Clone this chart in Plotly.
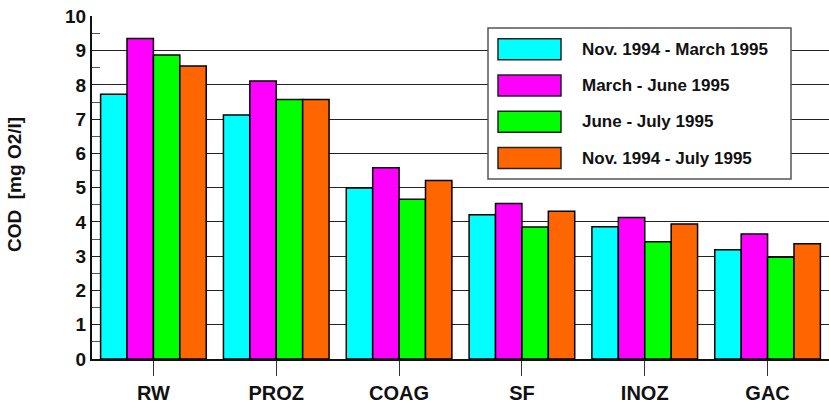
import plotly.graph_objects as go

categories = ["RW", "PROZ", "COAG", "SF", "INOZ", "GAC"]
series_names = ["Nov. 1994 - March 1995", "March - June 1995", "June - July 1995", "Nov. 1994 - July 1995"]
nov_mar = [7.73, 7.12, 4.99, 4.21, 3.86, 3.19]
mar_jun = [9.35, 8.11, 5.58, 4.54, 4.13, 3.65]
jun_jul = [8.87, 7.57, 4.66, 3.85, 3.42, 2.97]
nov_jul = [8.55, 7.57, 5.21, 4.31, 3.94, 3.36]
series_values = [nov_mar, mar_jun, jun_jul, nov_jul]
colors = ["#00FFFF", "#FF00FF", "#00FF00", "#FF6600"]
y_title = "COD&nbsp;&nbsp;[mg O2/l]"

W, H = 829, 403
L, R, T, B = 92, 0, 16, 403 - 359
PW, PH = W - L - R, H - T - B

FONT = "Liberation Sans, Arial, sans-serif"

fig = go.Figure()
for name, vals, col in zip(series_names, series_values, colors):
    fig.add_trace(go.Bar(
        x=categories, y=vals, name=name,
        marker=dict(color=col, line=dict(color="#000000", width=1.5)),
        showlegend=False,
    ))


def px_x(px):
    return (px - L) / PW


def px_y(py):
    return (H - B - py) / PH


shapes = []
annotations = []
# legend box
shapes.append(dict(type="rect", xref="paper", yref="paper",
                   x0=px_x(488), x1=px_x(791), y0=px_y(179), y1=px_y(28),
                   fillcolor="white", line=dict(color="#555555", width=1.5), layer="above"))
row_centers = [49.3, 85.5, 121.7, 158.0]
for name, col, yc in zip(series_names, colors, row_centers):
    shapes.append(dict(type="rect", xref="paper", yref="paper",
                       x0=px_x(498), x1=px_x(561), y0=px_y(yc + 10.5), y1=px_y(yc - 10.5),
                       fillcolor=col, line=dict(color="#222222", width=1.5), layer="above"))
    annotations.append(dict(xref="paper", yref="paper", x=px_x(580), y=px_y(yc),
                            xanchor="left", yanchor="middle", showarrow=False,
                            text=name, font=dict(family=FONT, size=17, color="#111111", weight="bold")))
# y axis title
annotations.append(dict(xref="paper", yref="paper", x=px_x(14), y=px_y(185),
                        xanchor="center", yanchor="middle", showarrow=False, textangle=-90,
                        text=y_title, font=dict(family=FONT, size=19, color="#111111", weight="bold")))

fig.update_layout(
    width=W, height=H,
    margin=dict(l=L, r=R, t=T, b=B, pad=0, autoexpand=False),
    paper_bgcolor="white", plot_bgcolor="white",
    barmode="group", bargap=0.14, bargroupgap=0,
    shapes=shapes, annotations=annotations,
    font=dict(family=FONT, color="#111111"),
)
fig.update_xaxes(
    range=[-0.5, 5.5], automargin=False,
    showline=True, linecolor="#111111", linewidth=2,
    ticks="outside", ticklen=15, tickcolor="#333333", tickwidth=1,
    ticklabelstandoff=0,
    tickfont=dict(family=FONT, size=20, color="#111111", weight="bold"),
    showgrid=False,
)
fig.update_yaxes(
    range=[0, 10.01], dtick=1, tick0=0, automargin=False,
    showline=True, linecolor="#111111", linewidth=2, mirror=False,
    showgrid=True, gridcolor="#222222", gridwidth=1,
    ticks="", ticklabelstandoff=0, ticklabeloverflow="allow",
    tickfont=dict(family=FONT, size=19, color="#111111", weight="bold"),
    minor=dict(dtick=0.5, tick0=0, ticks="inside", ticklen=8, tickcolor="#555555", tickwidth=1, showgrid=False),
    zeroline=False,
)

fig.write_html(
    "out.html",
    config={"displayModeBar": False},
    post_script="document.body.style.margin='0';document.body.style.overflow='hidden';",
)
